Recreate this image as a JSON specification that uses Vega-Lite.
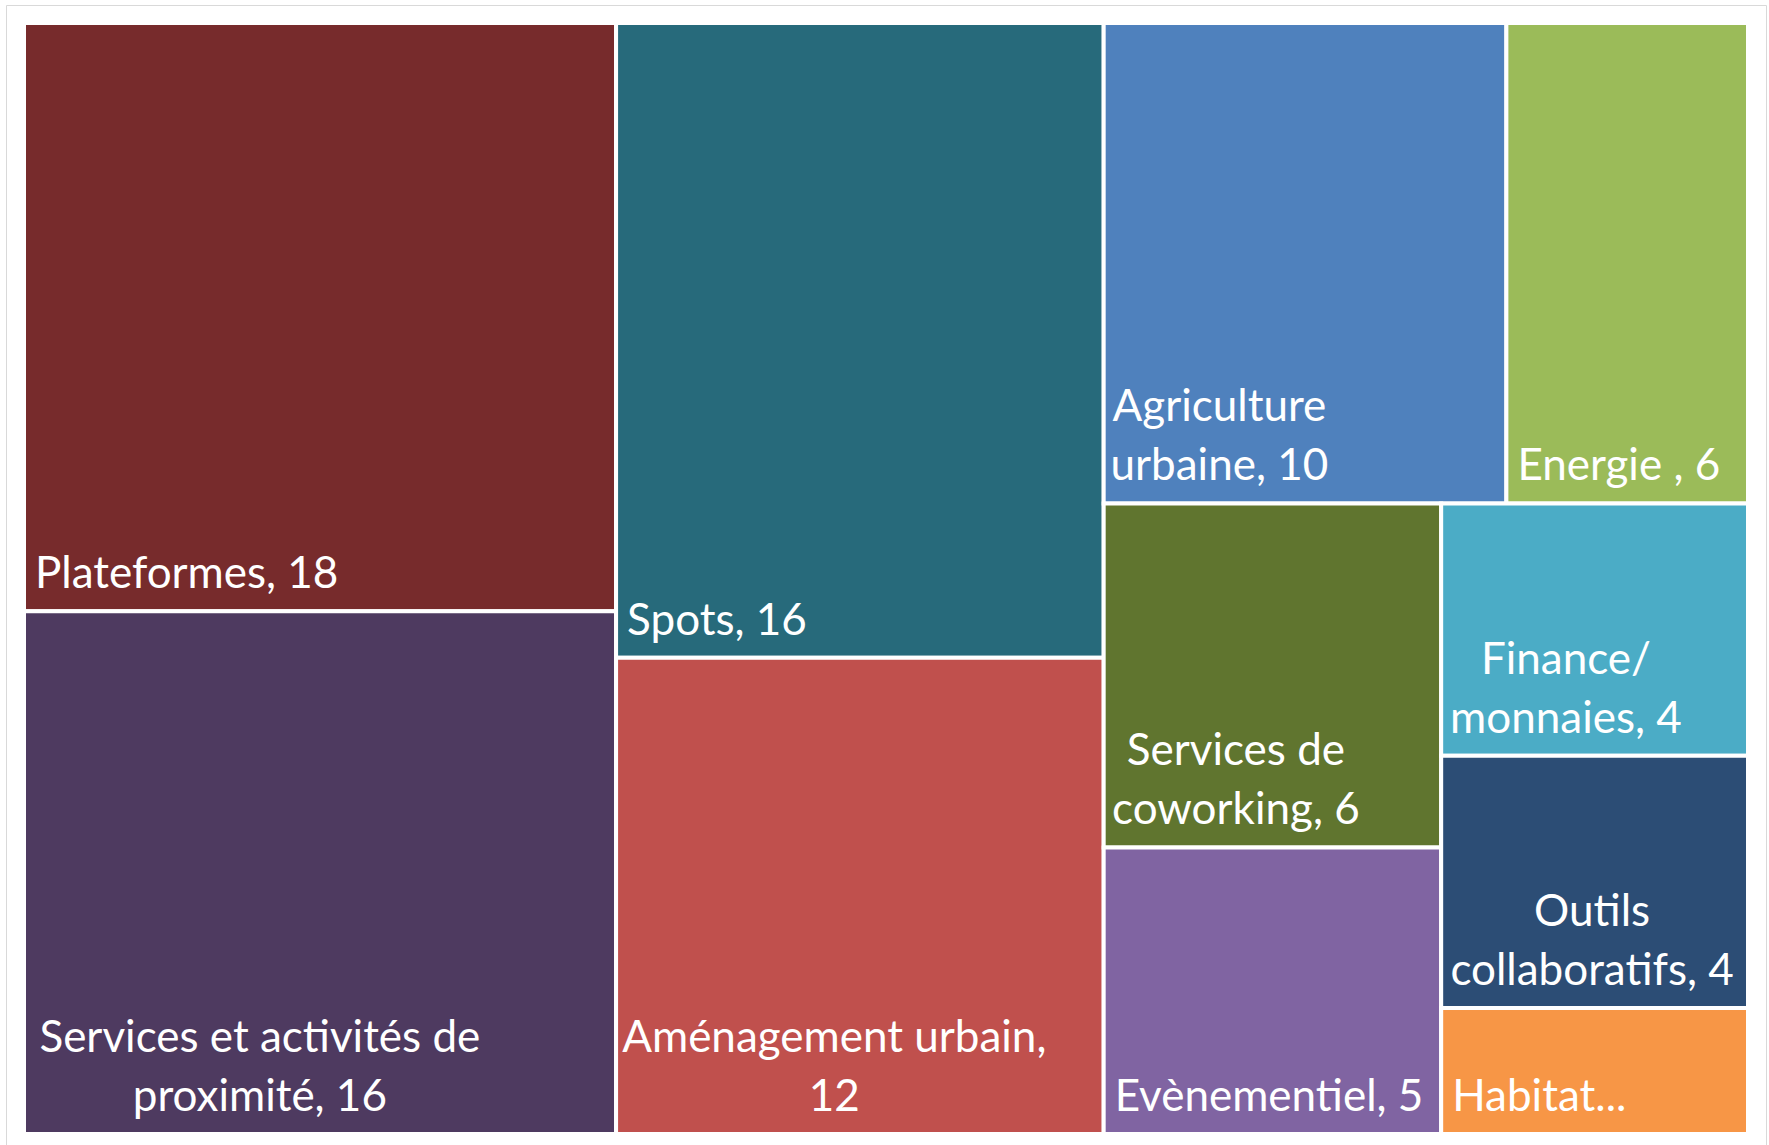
{
  "$schema": "https://vega.github.io/schema/vega-lite/v6.json",
  "width": 1760,
  "height": 1147,
  "autosize": {"type": "none"},
  "padding": {"left": 6, "top": 5, "right": 3, "bottom": 0},
  "background": "white",
  "config": {"view": {"stroke": "#d9d9d9", "strokeWidth": 1}},
  "data": {
    "values": [
      {"name": "Plateformes", "value": 18, "col": 1, "blk": 1, "sub": 1, "ord": 1, "label": ["Plateformes, 18"]},
      {"name": "Services et activités de proximité", "value": 16, "col": 1, "blk": 2, "sub": 1, "ord": 1, "label": ["Services et activités de", "proximité, 16"]},
      {"name": "Spots", "value": 16, "col": 2, "blk": 1, "sub": 1, "ord": 1, "label": ["Spots, 16"]},
      {"name": "Aménagement urbain", "value": 12, "col": 2, "blk": 2, "sub": 1, "ord": 1, "label": ["Aménagement urbain,", "12"]},
      {"name": "Agriculture urbaine", "value": 10, "col": 3, "blk": 1, "sub": 1, "ord": 1, "label": ["Agriculture", "urbaine, 10"]},
      {"name": "Energie", "value": 6, "col": 3, "blk": 1, "sub": 2, "ord": 1, "label": ["Energie , 6"]},
      {"name": "Services de coworking", "value": 6, "col": 3, "blk": 2, "sub": 1, "ord": 1, "label": ["Services de", "coworking, 6"]},
      {"name": "Evènementiel", "value": 5, "col": 3, "blk": 2, "sub": 1, "ord": 2, "label": ["Evènementiel, 5"]},
      {"name": "Finance/monnaies", "value": 4, "col": 3, "blk": 2, "sub": 2, "ord": 1, "label": ["Finance/", "monnaies, 4"]},
      {"name": "Outils collaboratifs", "value": 4, "col": 3, "blk": 2, "sub": 2, "ord": 2, "label": ["Outils", "collaboratifs, 4"]},
      {"name": "Habitat", "value": 2, "col": 3, "blk": 2, "sub": 2, "ord": 3, "label": ["Habitat..."]}
    ]
  },
  "transform": [
    {"joinaggregate": [{"op": "sum", "field": "value", "as": "colTot"}], "groupby": ["col"]},
    {"joinaggregate": [{"op": "sum", "field": "value", "as": "blkTot"}], "groupby": ["col", "blk"]},
    {"joinaggregate": [{"op": "sum", "field": "value", "as": "subTot"}], "groupby": ["col", "blk", "sub"]},
    {"window": [{"op": "sum", "field": "value", "as": "colEnd"}], "sort": [{"field": "col"}], "frame": [null, 0]},
    {"window": [{"op": "sum", "field": "value", "as": "blkEnd"}], "groupby": ["col"], "sort": [{"field": "blk"}], "frame": [null, 0]},
    {"window": [{"op": "sum", "field": "value", "as": "subEnd"}], "groupby": ["col", "blk"], "sort": [{"field": "sub"}], "frame": [null, 0]},
    {"window": [{"op": "sum", "field": "value", "as": "itemEnd"}], "groupby": ["col", "blk", "sub"], "sort": [{"field": "ord"}], "frame": [null, 0]},
    {"calculate": "datum.colEnd - datum.colTot", "as": "cx0"},
    {"calculate": "datum.cx0 + datum.colTot * (datum.subEnd - datum.subTot) / datum.blkTot", "as": "x0"},
    {"calculate": "datum.cx0 + datum.colTot * datum.subEnd / datum.blkTot", "as": "x1"},
    {"calculate": "(datum.blkEnd - datum.blkTot) / datum.colTot", "as": "by0"},
    {"calculate": "datum.blkEnd / datum.colTot", "as": "by1"},
    {"calculate": "datum.by0 + (datum.by1 - datum.by0) * (datum.itemEnd - datum.value) / datum.subTot", "as": "y0"},
    {"calculate": "datum.by0 + (datum.by1 - datum.by0) * datum.itemEnd / datum.subTot", "as": "y1"},
    {"calculate": "datum.label[0]", "as": "l1"},
    {"calculate": "length(datum.label) > 1 ? datum.label[1] : ''", "as": "l2"},
    {"calculate": "length(datum.label) > 1", "as": "multi"},
    {"calculate": "44 * (0.53 * length(datum.l1) - 0.31 * (length(datum.l1) - length(replace(datum.l1, regexp('[ijl,. ]', 'g'), ''))) - 0.19 * (length(datum.l1) - length(replace(datum.l1, regexp('[frt/]', 'g'), ''))) + 0.27 * (length(datum.l1) - length(replace(datum.l1, regexp('[mw]', 'g'), ''))) + 0.12 * (length(datum.l1) - length(replace(datum.l1, regexp('[A-Z]', 'g'), ''))))", "as": "w1"},
    {"calculate": "44 * (0.53 * length(datum.l2) - 0.31 * (length(datum.l2) - length(replace(datum.l2, regexp('[ijl,. ]', 'g'), ''))) - 0.19 * (length(datum.l2) - length(replace(datum.l2, regexp('[frt/]', 'g'), ''))) + 0.27 * (length(datum.l2) - length(replace(datum.l2, regexp('[mw]', 'g'), ''))) + 0.12 * (length(datum.l2) - length(replace(datum.l2, regexp('[A-Z]', 'g'), ''))))", "as": "w2"},
    {"calculate": "max(datum.w1, datum.w2)", "as": "w"}
  ],
  "encoding": {
    "x": {"field": "x0", "type": "quantitative", "axis": null, "scale": {"nice": false, "zero": true, "padding": 18}},
    "y": {"field": "y0", "type": "quantitative", "axis": null, "scale": {"nice": false, "zero": true, "reverse": true, "padding": 18}}
  },
  "layer": [
    {
      "mark": {"type": "rect", "stroke": "white", "strokeWidth": 4},
      "encoding": {
        "x2": {"field": "x1"},
        "y2": {"field": "y1"},
        "color": {
          "field": "name",
          "type": "nominal",
          "legend": null,
          "scale": {
            "domain": ["Plateformes", "Services et activités de proximité", "Spots", "Aménagement urbain", "Agriculture urbaine", "Energie", "Services de coworking", "Evènementiel", "Finance/monnaies", "Outils collaboratifs", "Habitat"],
            "range": ["#772B2C", "#4E3A60", "#276A7B", "#C0504D", "#4F81BD", "#9BBB59", "#60752F", "#8064A2", "#4BACC6", "#2C4D75", "#F79646"]
          }
        }
      }
    },
    {
      "mark": {
        "type": "text",
        "font": "Lato",
        "fontSize": 44,
        "lineHeight": 59,
        "color": "white",
        "baseline": "bottom",
        "align": {"expr": "datum.multi ? 'center' : 'left'"},
        "dx": {"expr": "datum.multi ? 11 + datum.w / 2 : 11"},
        "dy": {"expr": "datum.multi ? -73 : -14"}
      },
      "encoding": {
        "y": {"field": "y1", "type": "quantitative"},
        "text": {"field": "label", "type": "nominal"}
      }
    }
  ]
}
